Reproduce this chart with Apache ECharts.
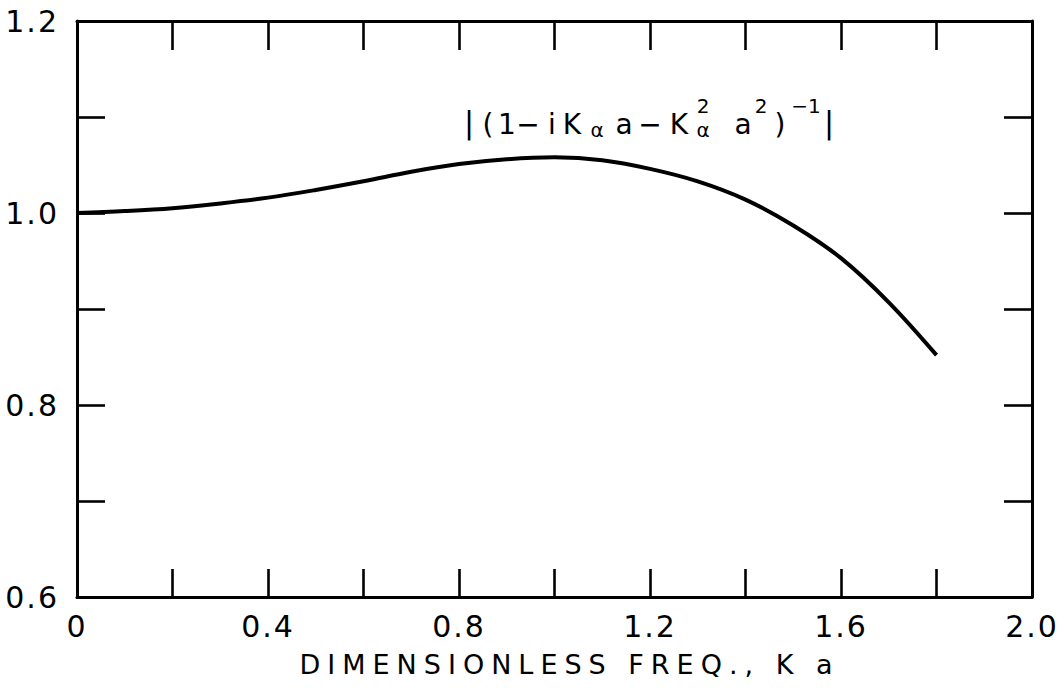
<!DOCTYPE html>
<html>
<head>
<meta charset="utf-8">
<script src="https://cdn.jsdelivr.net/npm/echarts@6/dist/echarts.min.js"></script>
<style>
  html, body { margin: 0; padding: 0; background: #fff; }
  #chart { width: 1064px; height: 688px; }
  /* wide hand-lettered look: the axis title (27px) and tick labels (30px) */
  #chart text[style*="27px"] { letter-spacing: 7px; }
  #chart text[style*="30px"] { letter-spacing: 2px; }
</style>
</head>
<body>
<div id="chart"></div>
<script>
// Dimensionless frequency K a
const kaValues = [0, 0.1, 0.2, 0.3, 0.4, 0.5, 0.6, 0.7, 0.8, 0.9, 1.0,
                  1.1, 1.2, 1.3, 1.4, 1.5, 1.6, 1.7, 1.8];
// |(1 - iKa - K^2 a^2)^-1|
const ampValues = [1.000, 1.002, 1.005, 1.010, 1.016, 1.024, 1.033, 1.043, 1.051, 1.056, 1.058,
                   1.055, 1.046, 1.033, 1.014, 0.987, 0.953, 0.907, 0.852];
const xTickLabels = ['0', '0.4', '0.8', '1.2', '1.6', '2.0'];
const yTickLabels = ['0.6', '0.8', '1.0', '1.2'];
const xTitle = 'DIMENSIONLESS FREQ., K a';

const FONT = '"DejaVu Sans", "Liberation Sans", sans-serif';

function pickLabel(list, v) {
  for (const s of list) {
    if (Math.abs(parseFloat(s) - v) < 1e-6) return s;
  }
  return '';
}

// Formula annotation: glyph, centre x, kind (b = bar, m = main, s = subscript, p = superscript)
const formulaLayout = [
  ['|', 470, 'b'], ['(', 488, 'm'], ['1', 507, 'm'], ['\u2212', 528, 'm'], ['i', 552, 'm'],
  ['K', 572, 'm'], ['\u03b1', 597, 's'], ['a', 624, 'm'], ['\u2212', 650, 'm'], ['K', 679, 'm'],
  ['2', 703, 'p'], ['\u03b1', 703, 's'], ['a', 743, 'm'], ['2', 761, 'p'], [')', 780, 'm'],
  ['\u22121', 806, 'p'], ['|', 830, 'b']
];
const formulaStyle = {
  b: { size: 30, y: 122 },
  m: { size: 28, y: 124 },
  s: { size: 20, y: 130 },
  p: { size: 20, y: 106 }
};

const chart = echarts.init(document.getElementById('chart'), null, { renderer: 'svg' });

const axisLineStyle = { color: '#000', width: 3 };
const tickStyle = { color: '#000', width: 2.6 };

chart.setOption({
  backgroundColor: '#fff',
  animation: false,
  grid: { left: 77, right: 32, top: 21, bottom: 91 },
  xAxis: [
    {
      type: 'value', position: 'bottom', min: 0, max: 2, interval: 0.2,
      axisLine: { show: true, onZero: false, lineStyle: axisLineStyle },
      axisTick: { show: true, inside: true, length: 28, lineStyle: tickStyle },
      splitLine: { show: false },
      axisLabel: {
        show: true, margin: 14, color: '#000', fontSize: 30, fontFamily: FONT,
        showMinLabel: true, showMaxLabel: true,
        formatter: v => pickLabel(xTickLabels, v)
      },
      name: xTitle, nameLocation: 'middle', nameGap: 54,
      nameTextStyle: { color: '#000', fontSize: 27, fontFamily: FONT, padding: [0, 0, 0, 30] }
    },
    {
      type: 'value', position: 'top', min: 0, max: 2, interval: 0.2,
      axisLine: { show: true, onZero: false, lineStyle: axisLineStyle },
      axisTick: { show: true, inside: true, length: 29, lineStyle: tickStyle },
      axisLabel: { show: false },
      splitLine: { show: false }
    }
  ],
  yAxis: [
    {
      type: 'value', position: 'left', min: 0.6, max: 1.2, interval: 0.1,
      axisLine: { show: true, onZero: false, lineStyle: axisLineStyle },
      axisTick: { show: true, inside: true, length: 28, lineStyle: tickStyle },
      splitLine: { show: false },
      axisLabel: {
        show: true, margin: 18, color: '#000', fontSize: 30, fontFamily: FONT,
        showMinLabel: true, showMaxLabel: true,
        formatter: v => pickLabel(yTickLabels, v)
      }
    },
    {
      type: 'value', position: 'right', min: 0.6, max: 1.2, interval: 0.1,
      axisLine: { show: true, onZero: false, lineStyle: axisLineStyle },
      axisTick: { show: true, inside: true, length: 28, lineStyle: tickStyle },
      axisLabel: { show: false },
      splitLine: { show: false }
    }
  ],
  series: [
    {
      type: 'line',
      xAxisIndex: 0, yAxisIndex: 0,
      data: kaValues.map((k, i) => [k, ampValues[i]]),
      smooth: 0.35,
      showSymbol: false,
      symbol: 'none',
      lineStyle: { color: '#000', width: 4 },
      z: 3
    }
  ],
  graphic: formulaLayout.map(([t, x, kind]) => ({
    type: 'text',
    x: x,
    y: formulaStyle[kind].y,
    silent: true,
    style: {
      text: t,
      fill: '#000',
      fontSize: formulaStyle[kind].size,
      fontFamily: FONT,
      align: 'center',
      verticalAlign: 'middle'
    }
  }))
});
</script>
</body>
</html>
